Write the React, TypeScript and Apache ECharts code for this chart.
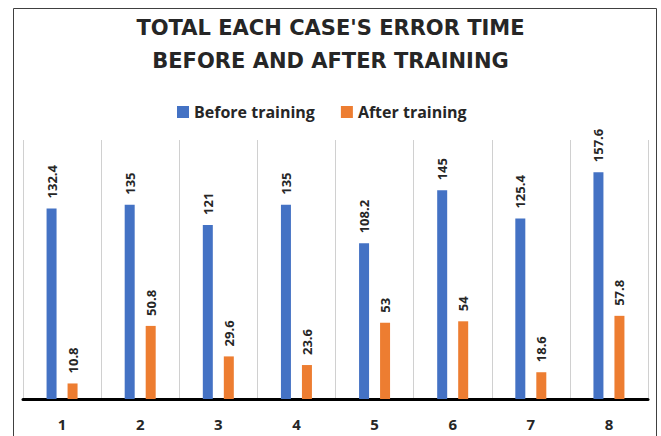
import React, { useEffect, useRef } from "react";
import * as echarts from "echarts";

const categories = ["1", "2", "3", "4", "5", "6", "7", "8"];
const beforeTraining = [132.4, 135, 121, 135, 108.2, 145, 125.4, 157.6];
const afterTraining = [10.8, 50.8, 29.6, 23.6, 53, 54, 18.6, 57.8];
const seriesNames = ["Before training", "After training"];
const titleText = "TOTAL EACH CASE'S ERROR TIME\nBEFORE AND AFTER TRAINING";

const FONT = "'Open Sans', 'Liberation Sans', sans-serif";
const TITLE_FONT = "'DejaVu Sans', 'Open Sans', sans-serif";

export default function App() {
  const ref = useRef<HTMLDivElement>(null);
  useEffect(() => {
    if (!ref.current) return;
    const chart = echarts.init(ref.current, undefined, { renderer: "svg" });
    const label = {
      show: true,
      position: "top" as const,
      rotate: 90,
      align: "left" as const,
      verticalAlign: "middle" as const,
      distance: 10,
      fontFamily: FONT,
      fontWeight: "bold" as const,
      fontSize: 13,
      color: "#262626",
    };
    chart.setOption({
      animation: false,
      backgroundColor: "#ffffff",
      title: {
        text: titleText,
        left: "center",
        top: 11,
        padding: 0,
        textStyle: {
          fontFamily: TITLE_FONT,
          fontWeight: "bold",
          fontSize: 21,
          lineHeight: 33,
          color: "#262626",
        },
      },
      legend: {
        top: 104,
        left: 177,
        padding: 0,
        itemWidth: 12,
        itemHeight: 12,
        itemGap: 26,
        icon: "rect",
        data: seriesNames,
        textStyle: {
          fontFamily: FONT,
          fontWeight: "bold",
          fontSize: 16,
          color: "#262626",
        },
      },
      grid: { left: 23, right: 13, top: 140, bottom: 37, containLabel: false },
      xAxis: {
        type: "category",
        data: categories,
        axisLine: { lineStyle: { color: "#000000", width: 3 } },
        axisTick: { show: false },
        axisLabel: {
          margin: 17,
          fontFamily: FONT,
          fontWeight: "bold",
          fontSize: 15,
          color: "#262626",
        },
        splitLine: { show: true, lineStyle: { color: "#d0d0d0", width: 1 } },
      },
      yAxis: {
        type: "value",
        min: 0,
        max: 180,
        show: false,
        splitLine: { show: false },
      },
      graphic: [
        {
          type: "rect",
          shape: { x: 13.5, y: 8.5, width: 643, height: 440 },
          style: { fill: "none", stroke: "#404040", lineWidth: 1 },
          silent: true,
        },
      ],
      series: [
        {
          name: seriesNames[0],
          type: "bar",
          data: beforeTraining,
          barWidth: 10,
          barGap: "110%",
          itemStyle: { color: "#4472C4" },
          label,
        },
        {
          name: seriesNames[1],
          type: "bar",
          data: afterTraining,
          barWidth: 10,
          itemStyle: { color: "#ED7D31" },
          label,
        },
      ],
    });
    return () => chart.dispose();
  }, []);
  return (
    <div
      ref={ref}
      style={{ position: "fixed", left: 0, top: 0, width: 661, height: 436 }}
    />
  );
}
